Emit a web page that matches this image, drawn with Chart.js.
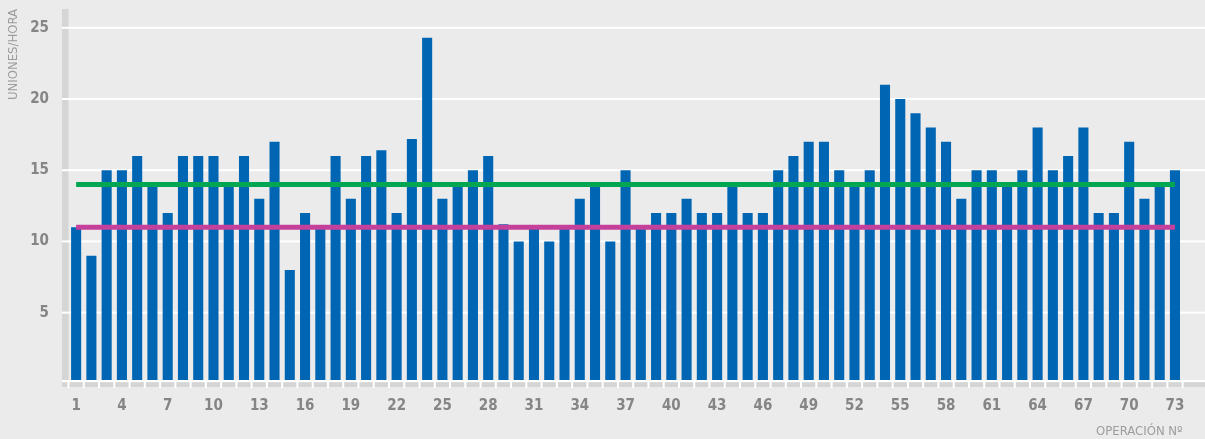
<!DOCTYPE html>
<html>
<head>
<meta charset="utf-8">
<script src="https://cdn.jsdelivr.net/npm/chart.js@4/dist/chart.umd.min.js"></script>
<style>
    html, body { margin: 0; padding: 0; background: #ebebeb; }
    #wrap { width: 1205px; height: 439px; position: relative; }
</style>
</head>
<body>
<div id="wrap"><canvas id="myChart" width="1205" height="439"></canvas></div>
<script>

    // operation numbers 1..73
    const operaciones = ['1', '2', '3', '4', '5', '6', '7', '8', '9', '10', '11', '12', '13', '14', '15', '16', '17', '18', '19', '20',
        '21', '22', '23', '24', '25', '26', '27', '28', '29', '30', '31', '32', '33', '34', '35', '36', '37', '38', '39', '40',
        '41', '42', '43', '44', '45', '46', '47', '48', '49', '50', '51', '52', '53', '54', '55', '56', '57', '58', '59', '60',
        '61', '62', '63', '64', '65', '66', '67', '68', '69', '70', '71', '72', '73'];

    const uniones = [11, 9, 15, 15, 16, 14, 12, 16, 16, 16, 14, 16, 13, 17, 8, 12, 11, 16, 13, 16,
        16.4, 12, 17.2, 24.3, 13, 14, 15, 16, 11.2, 10, 11, 10, 11, 13, 14, 10, 15, 11, 12, 12,
        13, 12, 12, 14, 12, 12, 15, 16, 17, 17, 15, 14, 15, 21, 20, 19, 18, 17, 13, 15,
        15, 14, 15, 18, 15, 16, 18, 12, 12, 17, 13, 14, 15];

    const lineaVerde = 14;
    const lineaMagenta = 11;

    const yTicks = [5, 10, 15, 20, 25];
    const xTickEvery = 3;

    const colors = {
        bg: '#ebebeb',
        band: '#d5d5d5',
        grid: '#ffffff',
        bar: '#0066b3',
        green: '#00a651',
        magenta: '#c5409a',
        tick: '#858585',
        title: '#9c9c9c'
    };

    const fontFamily = "'Liberation Sans Narrow', 'DejaVu Sans Condensed', 'Liberation Sans', sans-serif";

    // gray bands + white grid drawn from the scales, under the bars
    const bandsPlugin = {
        id: 'bands',
        beforeDatasetsDraw(chart) {
            var ctx = chart.ctx;
            var area = chart.chartArea;
            var xs = chart.scales.x;
            var ys = chart.scales.y;
            var w = chart.width;
            var bandLeft = area.left - 6.5;

            ctx.save();

            // left band
            ctx.fillStyle = colors.band;
            ctx.fillRect(bandLeft, area.top, area.left - bandLeft, area.bottom - area.top);

            // bottom band, split at category borders
            ctx.fillRect(bandLeft, area.bottom + 2.3, w - bandLeft, 4.7);
            ctx.fillStyle = colors.grid;
            for (var i = 0; i <= operaciones.length; i++) {
                var bx;
                if (i === 0) bx = area.left;
                else if (i === operaciones.length) bx = area.right;
                else bx = (xs.getPixelForValue(i - 1) + xs.getPixelForValue(i)) / 2;
                ctx.fillRect(bx - 1, area.bottom + 2, 2, 6);
            }

            // horizontal grid
            yTicks.forEach(v => {
                var py = ys.getPixelForValue(v);
                ctx.fillRect(bandLeft, py - 1, w - bandLeft, 2);
            });
            ctx.fillRect(bandLeft, area.bottom, w - bandLeft, 2);

            ctx.restore();
        }
    };

    var ctx = document.getElementById('myChart');

    var myChart = new Chart(ctx, {
        type: 'bar',
        data: {
            labels: operaciones,
            datasets: [{
                type: 'line',
                data: [{ x: operaciones[0], y: lineaVerde }, { x: operaciones[operaciones.length - 1], y: lineaVerde }],
                borderColor: colors.green,
                borderWidth: 5,
                pointRadius: 0,
                borderCapStyle: 'butt',
                order: 1
            }, {
                type: 'line',
                data: [{ x: operaciones[0], y: lineaMagenta }, { x: operaciones[operaciones.length - 1], y: lineaMagenta }],
                borderColor: colors.magenta,
                borderWidth: 5,
                pointRadius: 0,
                borderCapStyle: 'butt',
                order: 1
            }, {
                type: 'bar',
                data: uniones,
                backgroundColor: colors.bar,
                barPercentage: 0.66,
                categoryPercentage: 1,
                order: 2
            }]
        },
        options: {
            responsive: false,
            animation: false,
            events: [],
            layout: { padding: { top: 9, right: 22.4, left: 0, bottom: 0 } },
            plugins: {
                legend: { display: false },
                tooltip: { enabled: false }
            },
            scales: {
                x: {
                    grid: { display: false, drawTicks: false },
                    border: { display: false },
                    ticks: {
                        autoSkip: false,
                        maxRotation: 0,
                        padding: 17,
                        color: colors.tick,
                        font: { family: fontFamily, size: 15, weight: 'bold' },
                        callback: function (value, index) {
                            return index % xTickEvery === 0 ? this.getLabelForValue(value) : '';
                        }
                    },
                    title: {
                        display: true,
                        text: 'OPERACIÓN Nº',
                        align: 'end',
                        color: colors.title,
                        padding: { top: 4.2, bottom: 0 },
                        font: { family: fontFamily, size: 13 }
                    },
                    afterFit: (scale) => {
                        scale.height = 59;
                        scale.paddingLeft = 0;
                        scale.paddingRight = 0;
                    }
                },
                y: {
                    min: 0.27,
                    max: 26.32,
                    grid: { display: false, drawTicks: false },
                    border: { display: false },
                    afterBuildTicks: (axis) => { axis.ticks = yTicks.map(v => ({ value: v })); },
                    ticks: {
                        padding: 19.5,
                        color: colors.tick,
                        font: { family: fontFamily, size: 15, weight: 'bold' }
                    },
                    title: {
                        display: true,
                        text: 'UNIONES/HORA',
                        align: 'end',
                        color: colors.title,
                        padding: { top: 6.2, bottom: 0 },
                        font: { family: fontFamily, size: 13 }
                    },
                    afterFit: (scale) => {
                        scale.width = 68.5;
                        scale.paddingTop = 0;
                        scale.paddingBottom = 0;
                    }
                }
            }
        },
        plugins: [bandsPlugin]
    });

</script>
</body>
</html>
